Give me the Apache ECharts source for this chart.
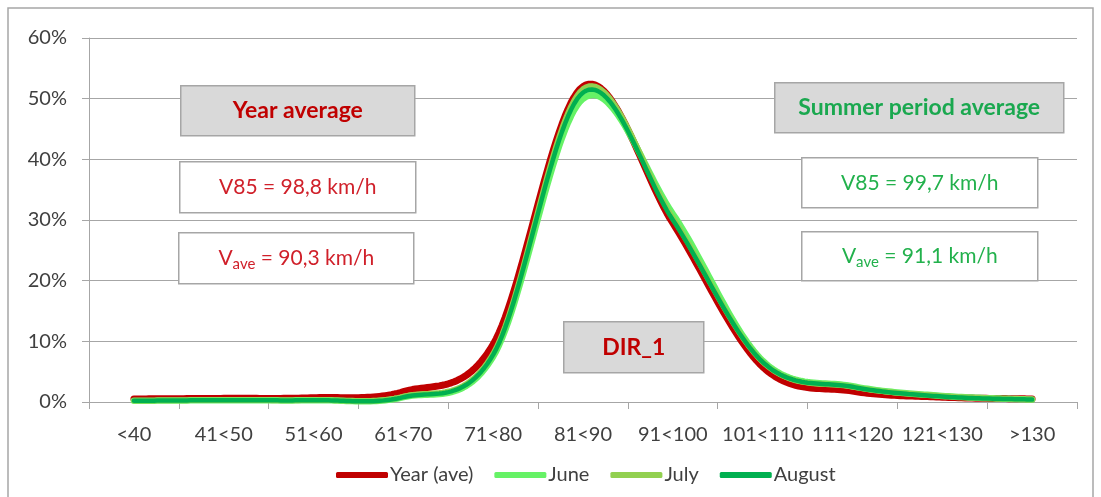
<!DOCTYPE html>
<html>
<head>
<meta charset="utf-8">
<script src="https://cdn.jsdelivr.net/npm/echarts@6/dist/echarts.min.js"></script>
<style>
html,body{margin:0;padding:0;background:#fff;}
#chart{width:1101px;height:497px;}
</style>
</head>
<body>
<div id="chart"></div>
<script>
var categories = ['<40','41<50','51<60','61<70','71<80','81<90','91<100','101<110','111<120','121<130','>130'];
var yearAve = [0.5, 0.6, 0.7, 1.7, 9.5, 52.0, 29.5, 5.8, 1.8, 0.8, 0.5];
var june    = [0.2, 0.3, 0.3, 0.8, 7.5, 50.0, 31.0, 6.8, 2.6, 1.0, 0.4];
var july    = [0.2, 0.3, 0.3, 0.9, 8.0, 51.6, 30.3, 6.6, 2.5, 1.0, 0.4];
var august  = [0.2, 0.3, 0.3, 0.8, 7.8, 51.0, 30.0, 6.6, 2.5, 0.9, 0.4];
var seriesNames = ['Year (ave)','June','July','August'];
var yTicks = {min: 0, max: 60, interval: 10};

var FONT = 'Lato';
var RED = '#c00000', RED_T = '#d0202a', GREEN_T = '#22b14c', GREEN_B = '#1aa84f';
var GRID = '#a6a6a6';

function box(x, y, w, h, fill, textCfg) {
  return {
    type: 'group', left: x, top: y, z: 100,
    children: [
      {type: 'rect', shape: {x: 0, y: 0, width: w, height: h},
       style: {fill: fill, stroke: '#a6a6a6', lineWidth: 1.5}, z: 100},
      {type: 'text', x: w / 2, y: h / 2, z: 101,
       style: Object.assign({align: 'center', verticalAlign: 'middle', fontFamily: FONT}, textCfg)}
    ]
  };
}
function subText(main, sub, rest, color) {
  return {
    text: '{v|' + main + '}{s|' + sub + '}{v|' + rest + '}',
    rich: {
      v: {fontSize: 21, fontFamily: FONT, fill: color, color: color, lineHeight: 26, verticalAlign: 'middle'},
      s: {fontSize: 15, fontFamily: FONT, fill: color, color: color, lineHeight: 14, verticalAlign: 'bottom'}
    }
  };
}

// Excel-like smoothed line (Catmull-Rom Bezier), points from the axis scales via api.coord
function smoothPoints(pts) {
  var out = [];
  var n = pts.length;
  for (var i = 0; i < n - 1; i++) {
    var p0 = pts[i - 1] || pts[i], p1 = pts[i], p2 = pts[i + 1], p3 = pts[i + 2] || pts[i + 1];
    var c1 = [p1[0] + (p2[0] - p0[0]) / 6, p1[1] + (p2[1] - p0[1]) / 6];
    var c2 = [p2[0] - (p3[0] - p1[0]) / 6, p2[1] - (p3[1] - p1[1]) / 6];
    var steps = 30;
    for (var k = (i === 0 ? 0 : 1); k <= steps; k++) {
      var t = k / steps, u = 1 - t;
      var a = u * u * u, b = 3 * u * u * t, c = 3 * u * t * t, d = t * t * t;
      out.push([a * p1[0] + b * c1[0] + c * c2[0] + d * p2[0],
                a * p1[1] + b * c1[1] + c * c2[1] + d * p2[1]]);
    }
  }
  return out;
}

var chart = echarts.init(document.getElementById('chart'), null, {renderer: 'canvas'});
var colors = [RED, '#66f266', '#92d050', '#00b050'];
var widths = [7, 6.5, 5.5, 4.5];
var datas = [yearAve, june, july, august];

chart.setOption({
  animation: false,
  textStyle: {fontFamily: FONT},
  grid: {left: 89, right: 24, top: 38, bottom: 95},
  xAxis: {
    type: 'category', data: categories, boundaryGap: true,
    axisLine: {lineStyle: {color: GRID, width: 1}},
    axisTick: {show: true, length: 7, lineStyle: {color: GRID}},
    axisLabel: {color: '#404040', fontSize: 20, fontFamily: FONT, margin: 23, interval: 0}
  },
  yAxis: {
    type: 'value', min: yTicks.min, max: yTicks.max, interval: yTicks.interval,
    axisLine: {show: true, lineStyle: {color: GRID, width: 1}},
    axisTick: {show: true, length: 7, lineStyle: {color: GRID}},
    splitLine: {lineStyle: {color: GRID, width: 1}},
    axisLabel: {color: '#404040', fontSize: 20, fontFamily: FONT, margin: 22, formatter: '{value}%'}
  },
  legend: {
    left: 331, top: 460, itemWidth: 52, itemHeight: 6, itemGap: 21,
    icon: 'roundRect',
    textStyle: {color: '#404040', fontSize: 20, fontFamily: FONT, padding: [0, 0, 0, -3]},
    data: seriesNames
  },
  series: seriesNames.map(function (n, i) {
    var vals = datas[i];
    return {
      name: n, type: 'custom', color: colors[i],
      itemStyle: {color: colors[i]},
      encode: {x: 0, y: 1},
      data: vals.map(function (v, j) { return [j, v]; }),
      renderItem: function (params, api) {
        if (params.dataIndex !== 0) return null;
        var pts = vals.map(function (v, j) { return api.coord([j, v]); });
        return {
          type: 'polyline',
          shape: {points: smoothPoints(pts)},
          style: {fill: 'none', stroke: colors[i], lineWidth: widths[i], lineCap: 'round', lineJoin: 'round'}
        };
      }
    };
  }),
  graphic: [
    {type: 'rect', z: 0, shape: {x: 8, y: 8, width: 1085, height: 520},
     style: {fill: 'none', stroke: '#a6a6a6', lineWidth: 1.5}},
    box(180, 85, 234, 50, '#d9d9d9', {text: 'Year average', fontSize: 23, fontWeight: 'bold', fill: RED}),
    box(179, 161, 236, 51, '#ffffff', {text: 'V85 = 98,8 km/h', fontSize: 21, fill: RED_T}),
    box(178, 232, 235, 51, '#ffffff', subText('V', 'ave', ' = 90,3 km/h', RED_T)),
    box(774, 82, 289, 50, '#d9d9d9', {text: 'Summer period average', fontSize: 23, fontWeight: 'bold', fill: GREEN_B}),
    box(801, 157, 236, 50, '#ffffff', {text: 'V85 = 99,7 km/h', fontSize: 21, fill: GREEN_T}),
    box(801, 231, 236, 49, '#ffffff', subText('V', 'ave', ' = 91,1 km/h', GREEN_T)),
    box(563, 321, 140, 51, '#d9d9d9', {text: 'DIR_1', fontSize: 23, fontWeight: 'bold', fill: RED})
  ]
});
</script>
</body>
</html>
